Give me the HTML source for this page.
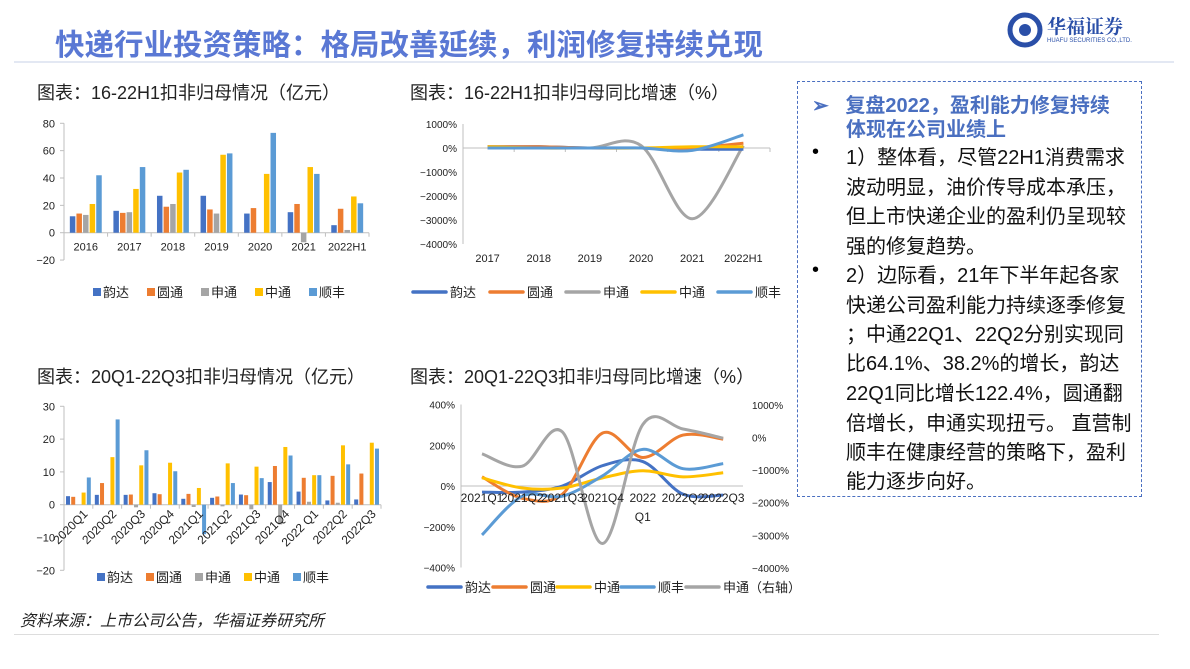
<!DOCTYPE html>
<html><head><meta charset="utf-8">
<style>
body{margin:0;width:1190px;height:669px;background:#fff;overflow:hidden;position:relative;font-family:"Liberation Sans","Noto Sans CJK SC",sans-serif}
.abs{position:absolute}
.ct{font-size:18px;color:#222;white-space:nowrap}
#panel{left:797px;top:81px;width:345px;height:416px;border:1.5px dashed #4a6fc0;box-sizing:border-box}
.pl{position:absolute;font-size:20px;color:#111;white-space:nowrap;left:48px}
.bul{position:absolute;left:14px;font-size:20px}
</style></head><body>
<div class="abs" style="left:55px;top:22px;font-size:29.5px;font-weight:bold;color:#5a78d4;white-space:nowrap">快递行业投资策略：格局改善延续，利润修复持续兑现</div>
<div class="abs" style="left:14px;top:61px;width:1160px;height:2px;background:#e3e8f3"></div>
<div class="abs" style="left:1005px;top:12px;width:150px;height:36px">
<svg width="40" height="36"><circle cx="20" cy="18" r="15" fill="none" stroke="#2a4fa8" stroke-width="5"/><circle cx="20" cy="18" r="6" fill="#2a4fa8"/></svg>
<span class="abs" style="left:42px;top:0;font-size:19px;font-weight:bold;color:#2a4fa8;font-family:'Noto Serif CJK SC',serif">华福证券</span>
<span class="abs" style="left:42px;top:26px;font-size:6px;color:#2a4fa8;white-space:nowrap">HUAFU SECURITIES CO.,LTD.</span>
</div>
<div class="abs ct" style="left:37px;top:79px">图表：16-22H1扣非归母情况（亿元）</div>
<div class="abs ct" style="left:410px;top:79px">图表：16-22H1扣非归母同比增速（%）</div>
<div class="abs ct" style="left:37px;top:363px">图表：20Q1-22Q3扣非归母情况（亿元）</div>
<div class="abs ct" style="left:410px;top:363px">图表：20Q1-22Q3扣非归母同比增速（%）</div>

<div class="abs" id="panel">
<div class="pl" style="left:14px;top:7px;color:#4a6fc0;font-weight:bold">➢&nbsp;&nbsp;&nbsp;复盘2022，盈利能力修复持续</div>
<div class="pl" style="top:31px;color:#4a6fc0;font-weight:bold">体现在公司业绩上</div>
<div class="bul" style="top:59px">•</div>
<div class="pl" style="top:59px">1）整体看，尽管22H1消费需求</div>
<div class="pl" style="top:89px">波动明显，油价传导成本承压，</div>
<div class="pl" style="top:118px">但上市快递企业的盈利仍呈现较</div>
<div class="pl" style="top:148px">强的修复趋势。</div>
<div class="bul" style="top:177px">•</div>
<div class="pl" style="top:177px">2）边际看，21年下半年起各家</div>
<div class="pl" style="top:207px">快递公司盈利能力持续逐季修复</div>
<div class="pl" style="top:236px">；中通22Q1、22Q2分别实现同</div>
<div class="pl" style="top:265px">比64.1%、38.2%的增长，韵达</div>
<div class="pl" style="top:295px">22Q1同比增长122.4%，圆通翻</div>
<div class="pl" style="top:325px">倍增长，申通实现扭亏。 直营制</div>
<div class="pl" style="top:354px">顺丰在健康经营的策略下，盈利</div>
<div class="pl" style="top:383px">能力逐步向好。</div>
</div>

<div class="abs" style="left:20px;top:607px;font-size:16px;font-style:italic;color:#222">资料来源：上市公司公告，华福证券研究所</div>
<div class="abs" style="left:14px;top:634px;width:1145px;height:1px;background:#ddd"></div>

<svg id="svg" class="abs" style="left:0;top:0" width="1190" height="669"></svg>

<script>
const seriesNames=["韵达","圆通","申通","中通","顺丰"];
const colors=["#4472C4","#ED7D31","#A5A5A5","#FFC000","#5B9BD5"];
// chart1
const c1Cats=["2016","2017","2018","2019","2020","2021","2022H1"];
const c1Yunda=[12,16,27,27,14,15,5.5];
const c1Yto=[14,14.5,19,17,18,21,17.5];
const c1Sto=[13,15,21,14,0,-7,2];
const c1Zto=[21,32,44,57,43,48,26.5];
const c1Sf=[42,48,46,58,73,43,21.5];
const c1Ticks=[80,60,40,20,0,-20];
// chart2
const c2Cats=["2017","2018","2019","2020","2021","2022H1"];
const c2Yunda=[50,50,0,0,-50,-50];
const c2Yto=[50,50,0,0,0,200];
const c2Sto=[0,50,0,100,-2950,100];
const c2Zto=[50,0,0,0,50,50];
const c2Sf=[0,0,0,0,-100,550];
const c2Ticks=[1000,0,-1000,-2000,-3000,-4000];
// chart3
const c3Cats=["2020Q1","2020Q2","2020Q3","2020Q4","2021Q1","2021Q2","2021Q3","2021Q4","2022  Q1","2022Q2","2022Q3"];
const c3Yunda=[2.6,3.0,3.0,3.5,1.8,2.1,3.1,6.9,4.0,1.3,1.6];
const c3Yto=[2.4,6.6,3.1,3.2,3.3,2.5,2.9,11.8,8.2,8.8,9.5];
const c3Sto=[0,0,-0.8,0,-0.7,-0.5,-1.4,-6,0.9,0.6,0];
const c3Zto=[3.7,14.5,12,12.8,5.1,12.6,11.6,17.6,9,18.1,18.9];
const c3Sf=[8.3,26,16.6,10.2,-9,6.6,8.1,15,9,12.3,17.1];
const c3Ticks=[30,20,10,0,-10,-20];
// chart4
const c4Cats=["2021Q1","2021Q2","2021Q3","2021Q4","2022\nQ1","2022Q2","2022Q3"];
const c4Yunda=[-30,-30,0,100,120,-40,-45];
const c4Yto=[45,-60,-40,260,140,250,230];
const c4Zto=[40,-10,-10,40,75,45,65];
const c4Sf=[-240,-50,-50,50,180,85,110];
const c4StoRight=[-500,-880,170,-3250,400,260,-20];
const c4LeftTicks=[400,200,0,-200,-400];
const c4RightTicks=[1000,0,-1000,-2000,-3000,-4000];

const svg=document.getElementById('svg');
const NS="http://www.w3.org/2000/svg";
function mk(tag,attrs,parent){const e=document.createElementNS(NS,tag);for(const k in attrs)e.setAttribute(k,attrs[k]);(parent||svg).appendChild(e);return e;}
function txt(x,y,s,size,anchor,parent){const t=mk('text',{x:x,y:y,'font-size':size,'text-anchor':anchor||'middle',fill:'#222','font-family':'Liberation Sans, Noto Sans CJK SC, sans-serif'},parent);t.textContent=s;return t;}
function lin(a,b,c,d,col){return mk('line',{x1:a,y1:b,x2:c,y2:d,stroke:col||'#bfbfbf','stroke-width':1});}
function smooth(pts){let d=`M${pts[0][0]},${pts[0][1]}`;for(let i=0;i<pts.length-1;i++){const p0=pts[i-1]||pts[i],p1=pts[i],p2=pts[i+1],p3=pts[i+2]||p2;const c1x=p1[0]+(p2[0]-p0[0])/6,c1y=p1[1]+(p2[1]-p0[1])/6,c2x=p2[0]-(p3[0]-p1[0])/6,c2y=p2[1]-(p3[1]-p1[1])/6;d+=` C${c1x},${c1y} ${c2x},${c2y} ${p2[0]},${p2[1]}`;}return d;}
function legendBars(x0,y,gap){seriesNames.forEach((n,i)=>{const x=x0+i*gap;const r=mk('rect',{x:x,y:y-9,width:8,height:8,fill:colors[i]});const t=txt(x+10,y,n,13,'start');});}
function legendLines(items,y){items.forEach(it=>{mk('line',{x1:it.x,y1:y-5,x2:it.x+33,y2:y-5,stroke:it.c,'stroke-width':3.5,'stroke-linecap':'round'});const t=txt(it.x+37,y,it.n,13,'start');});}

function barChart(o){
  const Y=v=>o.y0-v*o.k;
  o.ticks.forEach(t=>{const l=txt(o.ax-9,Y(t)+4,String(t).replace('-','−'),11,'end');lin(o.ax-4,Y(t),o.ax,Y(t));});
  lin(o.ax,Y(o.ticks[0]),o.ax,Y(o.ticks[o.ticks.length-1]));
  const cw=(o.right-o.ax)/o.cats.length;
  lin(o.ax,o.y0,o.right,o.y0);
  o.cats.forEach((c,j)=>{lin(o.ax+cw*(j+1),o.y0,o.ax+cw*(j+1),o.y0+4);
    const cx=o.ax+cw*(j+0.5);
    o.series.forEach((s,i)=>{const v=s[j];const x=cx+(i-2)*o.step-o.bw/2;const r=mk('rect',{x:x,y:Math.min(Y(v),o.y0),width:o.bw,height:Math.abs(Y(v)-o.y0),fill:colors[i]});});
    let t;
    if(o.rot){t=txt(cx+10,o.y0+10,c,12,'end');t.setAttribute('transform',`rotate(-45 ${cx+10} ${o.y0+10})`);}
    else t=txt(cx,o.y0+18,c,11);
    
  });
}
// chart1
barChart({cats:c1Cats,series:[c1Yunda,c1Yto,c1Sto,c1Zto,c1Sf],ticks:c1Ticks,y0:232.7,k:109.4/80,ax:64,right:369,bw:5.5,step:6.6});
legendBars(93,297,54);
// chart3
barChart({cats:c3Cats,series:[c3Yunda,c3Yto,c3Sto,c3Zto,c3Sf],ticks:c3Ticks,y0:504.7,k:3.28,ax:64,right:381,bw:4,step:5.2,rot:true});
legendBars(97,582,49);

// chart2
(function(){
  const y0=148,k=24/1000,ax=463,right=770;
  const Y=v=>y0-v*k;
  c2Ticks.forEach(t=>{const l=txt(ax-6,Y(t)+4,(t<0?'−':'')+Math.abs(t)+'%',10,'end');});
  lin(ax,Y(1000),ax,Y(-4000));lin(ax,y0,right,y0);
  const cw=(right-ax)/c2Cats.length;
  c2Cats.forEach((c,j)=>{lin(ax+cw*(j+1),y0,ax+cw*(j+1),y0+4);const t=txt(ax+cw*(j+0.5)-1,262,c,11);});
  const order=[2,0,1,3,4];const data=[c2Yunda,c2Yto,c2Sto,c2Zto,c2Sf];
  order.forEach(i=>{const pts=data[i].map((v,j)=>[ax+cw*(j+0.5)-1,Y(v)]);const p=mk('path',{d:smooth(pts),fill:'none',stroke:colors[i],'stroke-width':3});});
  legendLines([{x:413,n:'韵达',c:colors[0]},{x:490,n:'圆通',c:colors[1]},{x:566,n:'申通',c:colors[2]},{x:642,n:'中通',c:colors[3]},{x:718,n:'顺丰',c:colors[4]}],297);
})();

// chart4
(function(){
  const y0=486,k=81.5/400,ax=461,right=743,ry0=437.5,rk=32.6/1000;
  const Y=v=>y0-v*k,RY=v=>ry0-v*rk;
  c4LeftTicks.forEach(t=>{const l=txt(ax-6,Y(t)+4,(t<0?'−':'')+Math.abs(t)+'%',10,'end');});
  c4RightTicks.forEach(t=>{const l=txt(752,RY(t)+4,(t<0?'−':'')+Math.abs(t)+'%',10,'start');});
  lin(ax,Y(400),ax,Y(-400));lin(ax,y0,right,y0);
  const x0=482,dx=40.2;
  const data=[c4Yunda,c4Yto,c4Zto,c4Sf];const cidx=[0,1,3,4];
  data.forEach((s,n)=>{const pts=s.map((v,j)=>[x0+dx*j,Y(v)]);const p=mk('path',{d:smooth(pts),fill:'none',stroke:colors[cidx[n]],'stroke-width':3});});
  const gp=c4StoRight.map((v,j)=>[x0+dx*j,RY(v)]);
  const g=mk('path',{d:smooth(gp),fill:'none',stroke:colors[2],'stroke-width':3});
  c4Cats.forEach((c,j)=>{const parts=c.split('\n');parts.forEach((p,m)=>{const t=txt(x0+dx*j,502+m*19,p,12);});});
  legendLines([{x:428,n:'韵达',c:colors[0]},{x:493,n:'圆通',c:colors[1]},{x:557,n:'中通',c:colors[3]},{x:621,n:'顺丰',c:colors[4]},{x:686,n:'申通（右轴）',c:colors[2]}],592);
})();
</script>
</body></html>
